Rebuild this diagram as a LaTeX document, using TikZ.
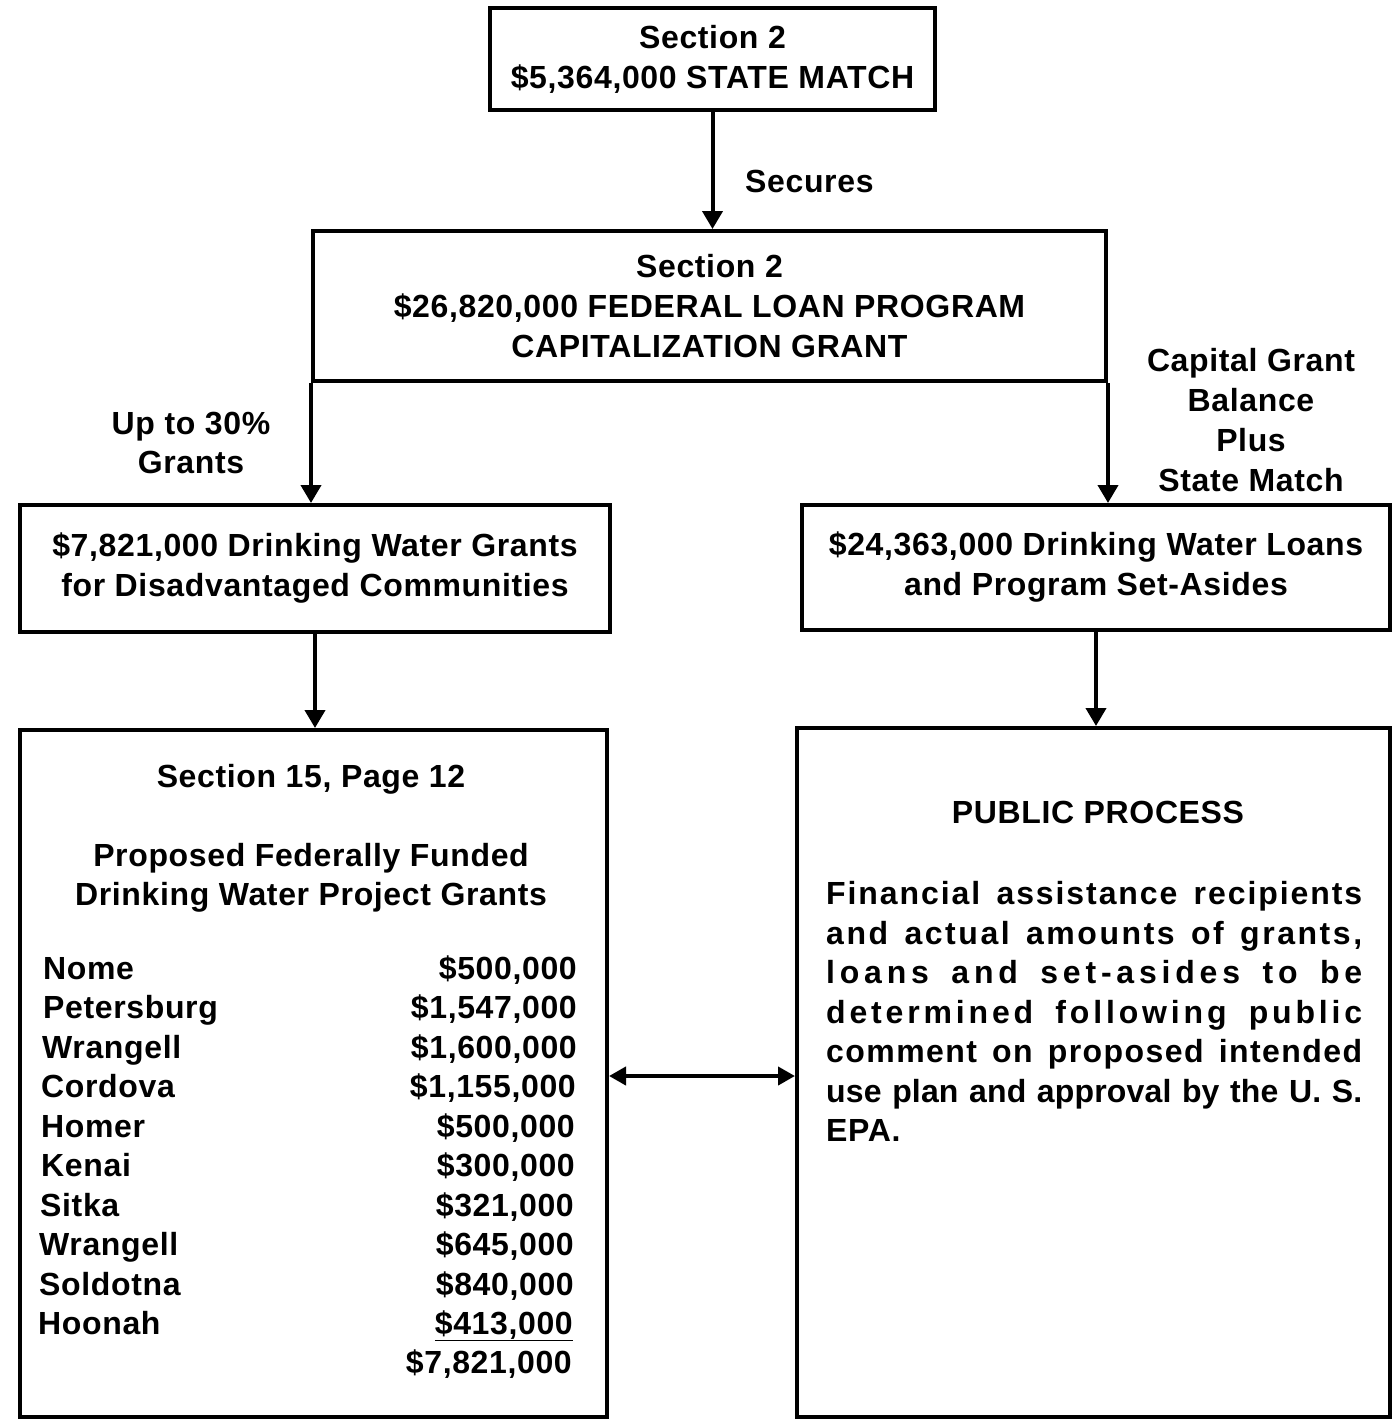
\documentclass[tikz,border=0pt]{standalone}
\usepackage{fontspec}
\setmainfont{Liberation Sans}[LetterSpace=2]
\usetikzlibrary{arrows.meta}
\tikzset{
  box/.style={draw, line width=4pt, inner sep=0pt, rectangle},
  txt/.style={font=\fontsize{32}{40}\selectfont\bfseries, inner sep=0pt, align=center},
  conn/.style={line width=4pt, -{Triangle[length=18pt,width=20pt]}},
  dconn/.style={line width=4pt, {Triangle[length=17pt,width=18pt]}-{Triangle[length=17pt,width=18pt]}},
  lft/.style={font=\fontsize{32}{40}\selectfont\bfseries, inner sep=0pt, anchor=base west},
  rgt/.style={font=\fontsize{32}{40}\selectfont\bfseries, inner sep=0pt, anchor=base east},
}
\newcommand{\jline}[2]{\addfontfeature{LetterSpace=#1}\makebox[536pt][s]{#2}}
\begin{document}
\begin{tikzpicture}[x=1pt,y=-1pt]
\useasboundingbox (0,0) rectangle (1393,1419);
% boxes
\node[box, txt, minimum width=445pt, minimum height=102pt] (top) at (712.5,59) {Section 2\\\$5,364,000 STATE MATCH};
\node[box, txt, minimum width=793pt, minimum height=150pt] (mid) at (709.5,306) {Section 2\\\$26,820,000 FEDERAL LOAN PROGRAM\\CAPITALIZATION GRANT};
\node[box, txt, minimum width=590pt, minimum height=127pt] (lm) at (315,568.5) {\$7,821,000 Drinking Water Grants\\for Disadvantaged Communities};
\node[box, txt, minimum width=588pt, minimum height=125pt] (rm) at (1096,567.5) {\$24,363,000 Drinking Water Loans\\and Program Set-Asides};
\node[box, minimum width=587pt, minimum height=687pt] (lb) at (313.5,1073.5) {};
\node[box, minimum width=593pt, minimum height=689pt] (rb) at (1093.5,1072.5) {};
% connectors
\draw[conn] (top.south) -- (top.south |- mid.north);
\draw[conn] (mid.south west) -- (mid.south west |- lm.north);
\draw[conn] (mid.south east) -- (mid.south east |- rm.north);
\draw[conn] (lm.south) -- (lm.south |- lb.north);
\draw[conn] (rm.south) -- (rm.south |- rb.north);
\draw[dconn] ([yshift=-2.5pt]lb.east) -- ([yshift=-2.5pt]lb.east -| rb.west);
% connector labels
\node[lft] (secures) at (745,192) {Secures};
\node[txt, anchor=base] (up30) at (191,434) {Up to 30\%};
\node[txt, anchor=base] (grants) at (191,473) {Grants};
\node[txt, anchor=base] (cg1) at (1251,371) {Capital Grant};
\node[txt, anchor=base] (cg2) at (1251,411) {Balance};
\node[txt, anchor=base] (cg3) at (1251,451) {Plus};
\node[txt, anchor=base] (cg4) at (1251,491) {State Match};
% left bottom box content
\node[txt, anchor=base] (lbt1) at (311,787) {Section 15, Page 12};
\node[txt, anchor=base] (lbt2) at (311,866) {Proposed Federally Funded};
\node[txt, anchor=base] (lbt3) at (311,905) {Drinking Water Project Grants};
\node[lft] (n1) at (43,979) {Nome};
\node[rgt] (a1) at (577,979) {\$500,000};
\node[lft] (n2) at (43,1018) {Petersburg};
\node[rgt] (a2) at (577,1018) {\$1,547,000};
\node[lft] (n3) at (42,1058) {Wrangell};
\node[rgt] (a3) at (577,1058) {\$1,600,000};
\node[lft] (n4) at (41,1097) {Cordova};
\node[rgt] (a4) at (576,1097) {\$1,155,000};
\node[lft] (n5) at (41,1137) {Homer};
\node[rgt] (a5) at (575,1137) {\$500,000};
\node[lft] (n6) at (41,1176) {Kenai};
\node[rgt] (a6) at (575,1176) {\$300,000};
\node[lft] (n7) at (40,1216) {Sitka};
\node[rgt] (a7) at (574,1216) {\$321,000};
\node[lft] (n8) at (39,1255) {Wrangell};
\node[rgt] (a8) at (574,1255) {\$645,000};
\node[lft] (n9) at (39,1295) {Soldotna};
\node[rgt] (a9) at (574,1295) {\$840,000};
\node[lft] (n10) at (38,1334) {Hoonah};
\node[rgt] (a10) at (573,1334) {\underline{\$413,000}};
\node[rgt] (tot) at (572,1373) {\$7,821,000};
% right bottom box content
\node[txt, anchor=base] (pp) at (1098,823) {PUBLIC PROCESS};
\begin{scope}[every node/.style={lft}]
\node (p1) at (826,904) {\jline{6}{Financial assistance recipients}};
\node (p2) at (826,944) {\jline{8}{and actual amounts of grants,}};
\node (p3) at (826,983) {\jline{15}{loans and set-asides to be}};
\node (p4) at (826,1023) {\jline{12}{determined following public}};
\node (p5) at (826,1062) {\jline{4.5}{comment on proposed intended}};
\node (p6) at (826,1102) {\jline{0.5}{use plan and approval by the U. S.}};
\node (p7) at (826,1141) {EPA.};
\end{scope}
\end{tikzpicture}
\end{document}
